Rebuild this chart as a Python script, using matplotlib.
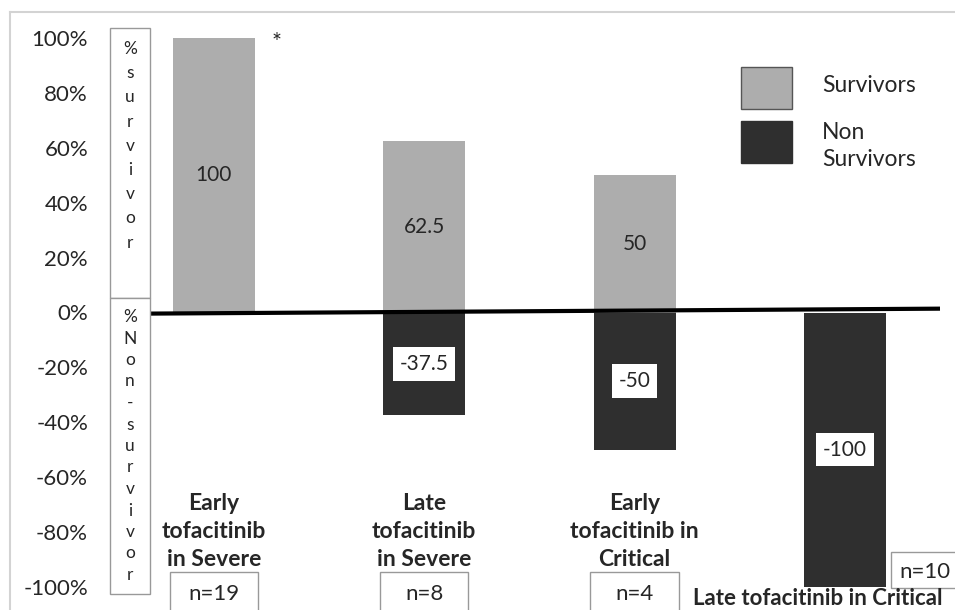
import numpy as np
import matplotlib
matplotlib.use('Agg')
import matplotlib.pyplot as plt
from matplotlib.patches import Rectangle
from matplotlib.lines import Line2D

plt.rcParams['font.family'] = ['Lato', 'DejaVu Sans']

groups = ['Early\ntofacitinib\nin Severe', 'Late\ntofacitinib\nin Severe',
          'Early\ntofacitinib in\nCritical', 'Late tofacitinib in Critical']
survivors = [100, 62.5, 50, 0]
non_survivors = [0, -37.5, -50, -100]
n_patients = [19, 8, 4, 10]
yticks = [100, 80, 60, 40, 20, 0, -20, -40, -60, -80, -100]

GREY, DARK, TXT = '#adadad', '#2f2f2f', '#262626'
W, H = 955, 610


def fx(px):
    return px / W


def fy(py):
    return 1 - py / H


fig = plt.figure(figsize=(W / 100, H / 100), dpi=100)
ax = fig.add_axes([fx(150), fy(587), fx(940) - fx(150), (587 - 38) / H])
x = np.arange(len(groups))
ax.bar(x, survivors, width=0.39, color=GREY)
ax.bar(x, non_survivors, width=0.39, color=DARK)
ax.set_xlim(-0.304, 3.452)
ax.set_ylim(-100, 100)
ax.plot([-0.304, 3.452], [-0.4, 1.4], color='black', lw=3, solid_capstyle='butt', clip_on=False)

ax.set_yticks(yticks, [f'{t}%' for t in yticks])
ax.tick_params(axis='y', length=0, pad=44.6, labelsize=16, labelcolor=TXT)
ax.set_xticks([])
for s in ax.spines.values():
    s.set_visible(False)

# value labels at bar middles
for xi, v in zip(x, survivors):
    if v:
        ax.text(xi, v / 2, f'{v:g}', ha='center', va='center', fontsize=15, color=TXT)
for xi, v in zip(x, non_survivors):
    if v:
        ax.text(xi, v / 2, f'{v:g}', ha='center', va='center', fontsize=15, color=TXT,
                bbox=dict(boxstyle='square,pad=0.32', fc='white', ec='none'))
ax.text(0.30, 98.5, '*', ha='center', va='center', fontsize=17, color=TXT)

# group labels and n boxes
for xi, lab, n in zip(x, groups, n_patients):
    if '\n' in lab:
        ax.text(xi, -79.8, lab, ha='center', va='center', fontsize=16.5, fontweight='bold',
                color=TXT, linespacing=1.4, clip_on=False)
        ax.add_patch(Rectangle((xi - 0.21, -112), 0.42, 17.3, fc='white', ec='#999999',
                               lw=1, clip_on=False))
        ax.text(xi, -102.5, f'n={n}', ha='center', va='center', fontsize=16, color=TXT,
                clip_on=False)
    else:
        ax.text(xi - 0.13, -104.3, lab, ha='center', va='center', fontsize=16,
                fontweight='bold', color=TXT, clip_on=False)
        ax.add_patch(Rectangle((xi + 0.22, -100.5), 0.35, 13.1, fc='white', ec='#999999',
                               lw=1, clip_on=False))
        ax.text(xi + 0.38, -94.5, f'n={n}', ha='center', va='center', fontsize=16,
                color=TXT, clip_on=False)

# stacked axis captions in boxes
for y0, y1, word, start, step in [(28, 298, '%survivor', 49, 24.2),
                                  (298, 594, '%Non-survivor', 317, 21.5)]:
    fig.patches.append(Rectangle((fx(110), fy(y1)), fx(40), (y1 - y0) / H, fc='white',
                                 ec='#999999', lw=1, transform=fig.transFigure))
    for i, ch in enumerate(word):
        fig.text(fx(130), fy(start + i * step), ch, ha='center', va='center',
                 fontsize=12.5, color=TXT)

# legend
for (top, col, lab) in [(67, GREY, 'Survivors'), (121, DARK, 'Non\nSurvivors')]:
    fig.patches.append(Rectangle((fx(741), fy(top + 42)), fx(51), 42 / H, fc=col,
                                 ec='#555555' if col == GREY else DARK, lw=1,
                                 transform=fig.transFigure))
    fig.text(fx(822), fy(top + 18 if col == GREY else top + 25), lab, ha='left', va='center',
             fontsize=16.5, color=TXT, linespacing=1.4)

# outer frame
fig.add_artist(Line2D([fx(10), 1], [fy(12), fy(12)], color='#d3d3d3', lw=1.5))
fig.add_artist(Line2D([fx(10), fx(10)], [fy(12), 0], color='#d3d3d3', lw=1.5))

fig.savefig('out.png', dpi=100)
